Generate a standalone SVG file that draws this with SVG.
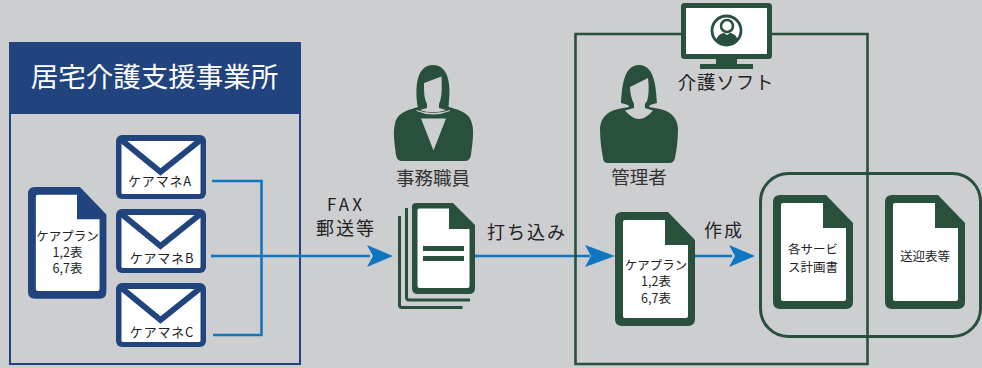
<svg xmlns="http://www.w3.org/2000/svg" width="982" height="368" viewBox="0 0 982 368">
<style>
text{font-family:"Noto Sans CJK JP","Noto Sans",sans-serif;fill:#222;text-anchor:middle}
.conn{fill:none;stroke:#1176c2;stroke-width:2.6}
.head{fill:#1176c2;stroke:none}
.blue{fill:#21447f}
.green{fill:#28503c}
.white{fill:#fff}
.bg{fill:#cdced0}
.gl{fill:none;stroke:#28503c}
.d12{font-size:12.5px}
.l18{font-size:18px}
</style>
<defs>
<path id="docOuter" d="M5,0H53L80,28V107Q80,114 73,114H7Q0,114 0,107V7Q0,0 7,0Z"/>
<path id="docInner" d="M10,8H50V33H73V104Q73,106 71,106H10Q8,106 8,104V10Q8,8 10,8Z"/>
<g id="env">
<rect width="90" height="64" rx="6" class="blue"/>
<rect x="5.5" y="6" width="79" height="53" rx="1.5" class="white"/>
<path d="M5.5,5L44.500,37L84.500,5" fill="none" stroke="#21447f" stroke-width="6"/>
<rect x="5" y="2" width="80" height="4" class="blue"/>
</g>
</defs>
<rect width="982" height="368" class="bg"/>

<g id="office">
<rect x="10" y="43" width="290" height="321" fill="none" stroke="#21447f" stroke-width="2"/>
<rect x="9" y="42" width="292" height="72" class="blue"/>
<text x="154.500" y="87" font-size="27.500" style="fill:#fff">居宅介護支援事業所</text>
</g>

<g id="careplan-blue">
<g transform="translate(28,187) scale(0.98,0.98)"><use href="#docOuter" class="blue"/><use href="#docInner" class="white"/></g>
<text class="d12" x="67.500" y="241">ケアプラン</text>
<text class="d12" x="67.500" y="257">1,2表</text>
<text class="d12" x="67.500" y="273">6,7表</text>
</g>

<g id="mail-a"><use href="#env" x="116" y="135"/><text x="160" y="186" font-size="13" letter-spacing="0.800">ケアマネA</text></g>
<g id="mail-b"><use href="#env" x="116" y="209"/><text x="162" y="263" font-size="13" letter-spacing="0.800">ケアマネB</text></g>
<g id="mail-c"><use href="#env" x="116" y="283"/><text x="162" y="337" font-size="13" letter-spacing="0.800">ケアマネC</text></g>

<g id="connectors">
<path class="conn" d="M212,181H261.500V335H213"/>
<path class="conn" d="M211,256H370"/>
<path class="head" d="M367,245L393,256L367,267L373,256Z"/>
<path class="conn" d="M474,256H590"/>
<path class="head" d="M585,245L615,256L585,267L591,256Z"/>
<path class="conn" d="M695,256H732"/>
<path class="head" d="M729,245L755,256L729,267L735,256Z"/>
</g>

<g id="fax-label">
<text x="346" y="211" font-size="17" letter-spacing="3">FAX</text>
<text x="346" y="235" font-size="18" letter-spacing="2">郵送等</text>
</g>
<g id="input-label"><text x="527" y="239" font-size="18" letter-spacing="2">打ち込み</text></g>
<g id="create-label"><text x="724" y="237" font-size="18" letter-spacing="2">作成</text></g>

<g id="clerk">
<path class="green" d="M417.500,106C415,88 416,65 433,65C450,65 451,88 448.500,106L449,107C458,110 470,112 472,124C474,130 473,140 471,155Q470,161 465,161H402Q397,161 396,155C394,140 393,130 395,124C397,112 409,110 418,107Z"/>
<path class="bg" d="M424,83L441.500,76.500C442,88 442,98 439,104L439,108L446,110C438,113 428,113 420,110L427,108L427,104C424,98 424,92 424,83Z"/>
<path class="bg" d="M416.500,110Q433,116 450,110L450,111Q433,118 416.500,111Z"/>
<path class="bg" d="M421,118.500H446L433.500,150.500Z"/>
<text x="433" y="185" font-size="18.500" style="fill:#333">事務職員</text>
</g>

<g id="stack">
<path d="M406.500,208V297Q406.500,300 409,300H470" class="gl" stroke-width="3"/>
<path d="M399.500,216V305Q399.500,307.500 402,307.500H462.500" class="gl" stroke-width="3"/>
<path class="green" d="M416,203H453L475,225V288Q475,294 469,294H418Q412,294 412,288V207Q412,203 416,203Z"/>
<path class="white" d="M419,208.500H449V229H469.500V286Q469.500,288 467.500,288H419.500Q417.500,288 417.500,286V210Q417.500,208.500 419,208.500Z"/>
<rect x="423" y="246" width="41" height="5" class="green"/>
<rect x="423" y="256" width="41" height="5" class="green"/>
</g>

<g id="software">
<path class="gl" stroke-width="2.600" d="M681,34H575.500V364H867.500V34H772"/>
<rect x="681" y="3" width="91" height="56" rx="3.500" class="green"/>
<rect x="686" y="8" width="81" height="46" class="white"/>
<rect x="716" y="59" width="21" height="6" class="green"/>
<rect x="700" y="64" width="53" height="5" class="green"/>
<circle cx="726.500" cy="30.500" r="14.500" fill="none" stroke="#28503c" stroke-width="2.800"/>
<circle cx="727" cy="26" r="6" fill="none" stroke="#28503c" stroke-width="2.500"/>
<path class="green" d="M716,41C717,35 722,33 724,33L727,35L730,33C732,33 737,35 738,41L735,43.500Q727,47 719,43.500Z"/>
<text x="726" y="89" font-size="18.500" letter-spacing="0.800">介護ソフト</text>
</g>

<g id="manager">
<path class="green" d="M621,103C622,92 622,65 639,65C656,65 656,92 657,103L650,105L649,107L660,109C672,112 677,118 678,128C678,138 677,148 675,158Q674,163 669,163H608Q603,163 603,158C601,148 600,138 600,128C601,118 606,112 618,109L629,107L628,105Z"/>
<path class="bg" d="M630,87L648,78C649,88 649,95 647,101L645,104V108L653,110.500C648,116 644,119 639,119C634,119 630,116 625,110.500L634,108V104C632,100 630,94 630,87Z"/>
<text x="639" y="184" font-size="18.500" style="fill:#333">管理者</text>
</g>

<g id="careplan-green">
<g transform="translate(615,212)"><use href="#docOuter" class="green"/><use href="#docInner" class="white"/></g>
<text class="d12" x="656" y="270">ケアプラン</text>
<text class="d12" x="656" y="286">1,2表</text>
<text class="d12" x="656" y="303">6,7表</text>
</g>

<g id="outputs">
<rect x="760.500" y="173.500" width="220" height="163" rx="28" class="gl" stroke-width="3"/>
</g>
<g id="service-plan">
<g transform="translate(773,195)"><use href="#docOuter" class="green"/><use href="#docInner" class="white"/></g>
<text class="d12" x="813" y="254">各サービ</text>
<text class="d12" x="813" y="272">ス計画書</text>
</g>
<g id="transport">
<g transform="translate(885,195)"><use href="#docOuter" class="green"/><use href="#docInner" class="white"/></g>
<text class="d12" x="925" y="261">送迎表等</text>
</g>
</svg>
